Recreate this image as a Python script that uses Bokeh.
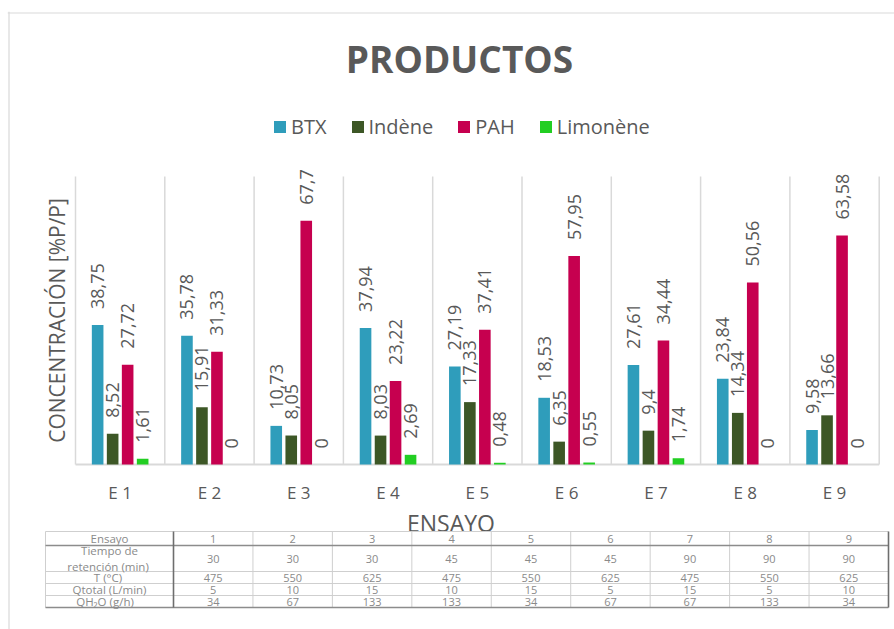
import math
import numpy as np
from bokeh.plotting import figure
from bokeh.models import (Range1d, LinearAxis, FixedTicker, ColumnDataSource,
                          Legend, LegendItem)
from bokeh.core.properties import value
from bokeh.transform import dodge
from bokeh.embed import file_html
from bokeh.resources import INLINE

# ---------------- data ----------------
ensayos = ["E 1", "E 2", "E 3", "E 4", "E 5", "E 6", "E 7", "E 8", "E 9"]
series_names = ["BTX", "Indène", "PAH", "Limonène"]
btx = [38.75, 35.78, 10.73, 37.94, 27.19, 18.53, 27.61, 23.84, 9.58]
indene = [8.52, 15.91, 8.05, 8.03, 17.33, 6.35, 9.4, 14.34, 13.66]
pah = [27.72, 31.33, 67.7, 23.22, 37.41, 57.95, 34.44, 50.56, 63.58]
limonene = [1.61, 0, 0, 2.69, 0.48, 0.55, 1.74, 0, 0]

tabla_ensayo = [1, 2, 3, 4, 5, 6, 7, 8, 9]
tabla_tiempo = [30, 30, 30, 45, 45, 45, 90, 90, 90]
tabla_temp = [475, 550, 625, 475, 550, 625, 475, 550, 625]
tabla_qtotal = [5, 10, 15, 10, 15, 5, 15, 5, 10]
tabla_qh2o = [34, 67, 133, 133, 34, 67, 67, 133, 34]
tabla_rows = ["Ensayo", "Tiempo de\nretención  (min)", "T  (°C)",
              "Qtotal (L/min)", "QH\u2082O    (g/h)"]

colors = ["#2F9DBB", "#3D5726", "#C6004F", "#22CE22"]
GRAY = "#595959"
LIGHT = "#D9D9D9"

# ---------------- layout constants (pixels) ----------------
W, H = 894, 629
FL, FT, FR = 7, 11, 0     # frame left / top / right border
CAT_PX = 89.3             # pixels per category
X0_PX = 75                # pixel of first category boundary
Y0_PX = 464               # pixel of value 0
PX_PER_UNIT = 3.6
Y_MAX = 80

x_start = 0.5 - (X0_PX - FL) / CAT_PX
x_end = x_start + (W - FR - FL) / CAT_PX
y_end = (Y0_PX - FT) / PX_PER_UNIT
y_start = -(H - Y0_PX) / PX_PER_UNIT

p = figure(width=W, height=H, x_range=Range1d(x_start, x_end),
           y_range=Range1d(y_start, y_end), x_axis_type=None, y_axis_type=None,
           toolbar_location=None, output_backend="svg",
           min_border_left=FL, min_border_top=FT, min_border_right=FR,
           min_border_bottom=0)
p.outline_line_color = None
p.background_fill_color = "white"
p.border_fill_color = "white"
p.extra_x_ranges = {"px": Range1d(FL, W - FR)}
p.extra_y_ranges = {"px": Range1d(H, FT)}

# outer chart frame (top + left visible)
p.segment(x0=[FL + 1.5, FL], y0=[FT, FT + 1.5], x1=[FL + 1.5, W - FR], y1=[H, FT + 1.5],
          x_range_name="px", y_range_name="px", line_color=LIGHT, line_width=1.2)

n = len(ensayos)
xs = list(range(1, n + 1))
src = ColumnDataSource(dict(x=xs, BTX=btx, IND=indene, PAH=pah, LIM=limonene,
                            BTX_l=[f"{v:g}".replace(".", ",") for v in btx],
                            IND_l=[f"{v:g}".replace(".", ",") for v in indene],
                            PAH_l=[f"{v:g}".replace(".", ",") for v in pah],
                            LIM_l=[f"{v:g}".replace(".", ",") for v in limonene]))

# category separators and baseline
bounds = [i + 0.5 for i in range(n + 1)]
p.segment(x0=bounds, y0=[0] * len(bounds), x1=bounds, y1=[Y_MAX] * len(bounds),
          line_color=LIGHT, line_width=1.5)
p.segment(x0=[bounds[0]], y0=[0], x1=[bounds[-1]], y1=[0], line_color=LIGHT, line_width=2)

keys = ["BTX", "IND", "PAH", "LIM"]
slot = 0.168
bw = 0.13
renderers = []
for k, (key, col) in enumerate(zip(keys, colors)):
    off = (k - 1.5) * slot
    r = p.vbar(x=dodge("x", off), top=key, width=bw, source=src,
               fill_color=col, line_color=None)
    renderers.append(r)
    p.text(x=dodge("x", off), y=key, text=key + "_l", source=src,
           angle=math.pi / 2, text_align="left", text_baseline="middle",
           y_offset=-16, text_font=value("Open Sans"), text_font_size="18px",
           text_color=GRAY)

# axes (fixed inside the frame)
xaxis = LinearAxis(ticker=FixedTicker(ticks=xs),
                   major_label_overrides={i: lab for i, lab in zip(xs, ensayos)},
                   fixed_location=0, axis_line_color=None,
                   major_tick_line_color=None, minor_tick_line_color=None,
                   major_tick_in=0, major_tick_out=0,
                   major_label_standoff=16, major_label_text_font="Open Sans",
                   major_label_text_font_size="17px", major_label_text_color=GRAY,
                   axis_label="ENSAYO", axis_label_text_font="Open Sans",
                   axis_label_text_font_style="normal", axis_label_text_font_size="23px",
                   axis_label_text_color=GRAY, axis_label_standoff=0)
p.add_layout(xaxis, "below")

yaxis = LinearAxis(ticker=FixedTicker(ticks=[]), fixed_location=0.5,
                   axis_line_color=None, major_tick_line_color=None,
                   minor_tick_line_color=None, major_tick_in=0, major_tick_out=0,
                   major_label_text_font_size="0px",
                   axis_label="CONCENTRACIÓN [%P/P]", axis_label_text_font="Open Sans",
                   axis_label_text_font_style="normal", axis_label_text_font_size="21px",
                   axis_label_text_color=GRAY, axis_label_standoff=5)
p.add_layout(yaxis, "left")

# title
p.text(x=[459], y=[58], text=["PRODUCTOS"], x_range_name="px", y_range_name="px",
       text_align="center", text_baseline="middle", text_font=value("Open Sans"),
       text_font_style="bold", text_font_size="37px", text_color=GRAY)

# legend
legend = Legend(items=[LegendItem(label=nm, renderers=[r])
                       for nm, r in zip(series_names, renderers)],
                orientation="horizontal", location=(265, 489),
                glyph_width=15, glyph_height=15, label_standoff=4, spacing=23,
                padding=0, margin=0, border_line_color=None,
                background_fill_alpha=0, label_text_font="Open Sans",
                label_text_font_size="20px", label_text_color=GRAY)
p.add_layout(legend)

# ---------------- parameter table ----------------
T_LEFT, T_FIRST, T_RIGHT = 45, 173, 888
row_edges = [531, 545, 571, 583, 595, 607]
col_w = (T_RIGHT - T_FIRST) / n
col_edges = [T_FIRST + col_w * j for j in range(n + 1)]

p.quad(left=[T_LEFT], right=[T_RIGHT], top=[row_edges[0]], bottom=[row_edges[-1]],
       x_range_name="px", y_range_name="px", fill_color="white", line_color=None,
       level="overlay")
# light inner lines
hl = [row_edges[0]] + row_edges[2:-1]
p.segment(x0=[T_LEFT] * len(hl), y0=hl, x1=[T_RIGHT] * len(hl), y1=hl,
          x_range_name="px", y_range_name="px", line_color="#CFCFCF", line_width=1,
          level="overlay")
vl = [T_LEFT] + col_edges[1:-1]
p.segment(x0=vl, y0=[row_edges[0]] * len(vl), x1=vl, y1=[row_edges[-1]] * len(vl),
          x_range_name="px", y_range_name="px", line_color="#CFCFCF", line_width=1,
          level="overlay")
# dark lines
p.segment(x0=[T_LEFT, T_LEFT], y0=[row_edges[1], row_edges[-1]],
          x1=[T_RIGHT, T_RIGHT], y1=[row_edges[1], row_edges[-1]],
          x_range_name="px", y_range_name="px", line_color="#8C8C8C", line_width=1.6,
          level="overlay")
p.segment(x0=[T_FIRST, T_RIGHT], y0=[row_edges[0]] * 2, x1=[T_FIRST, T_RIGHT],
          y1=[row_edges[-1]] * 2, x_range_name="px", y_range_name="px",
          line_color="#6E6E6E", line_width=1.6, level="overlay")

row_centers = [(row_edges[i] + row_edges[i + 1]) / 2 for i in range(len(row_edges) - 1)]
p.text(x=[(T_LEFT + T_FIRST) / 2] * len(tabla_rows), y=row_centers, text=tabla_rows,
       x_range_name="px", y_range_name="px", text_align="center",
       text_baseline="middle", text_font=value("Open Sans"), text_font_size="11.5px",
       text_color="#8A8A8A", text_line_height=1.05, level="overlay")

table_vals = [tabla_ensayo, tabla_tiempo, tabla_temp, tabla_qtotal, tabla_qh2o]
tx, ty, tt = [], [], []
for i, row in enumerate(table_vals):
    for j, v in enumerate(row):
        tx.append(col_edges[j] + col_w / 2)
        ty.append(row_centers[i])
        tt.append(str(v))
p.text(x=tx, y=ty, text=tt, x_range_name="px", y_range_name="px",
       text_align="center", text_baseline="middle", text_font=value("Open Sans"),
       text_font_size="11px", text_color="#8A8A8A", level="overlay")

page_css = ("{% block postamble %}<style>html, body { margin: 0; padding: 0; "
            "overflow: hidden; }</style>{% endblock %}")
open("out.html", "w").write(file_html(p, INLINE, template=page_css))
